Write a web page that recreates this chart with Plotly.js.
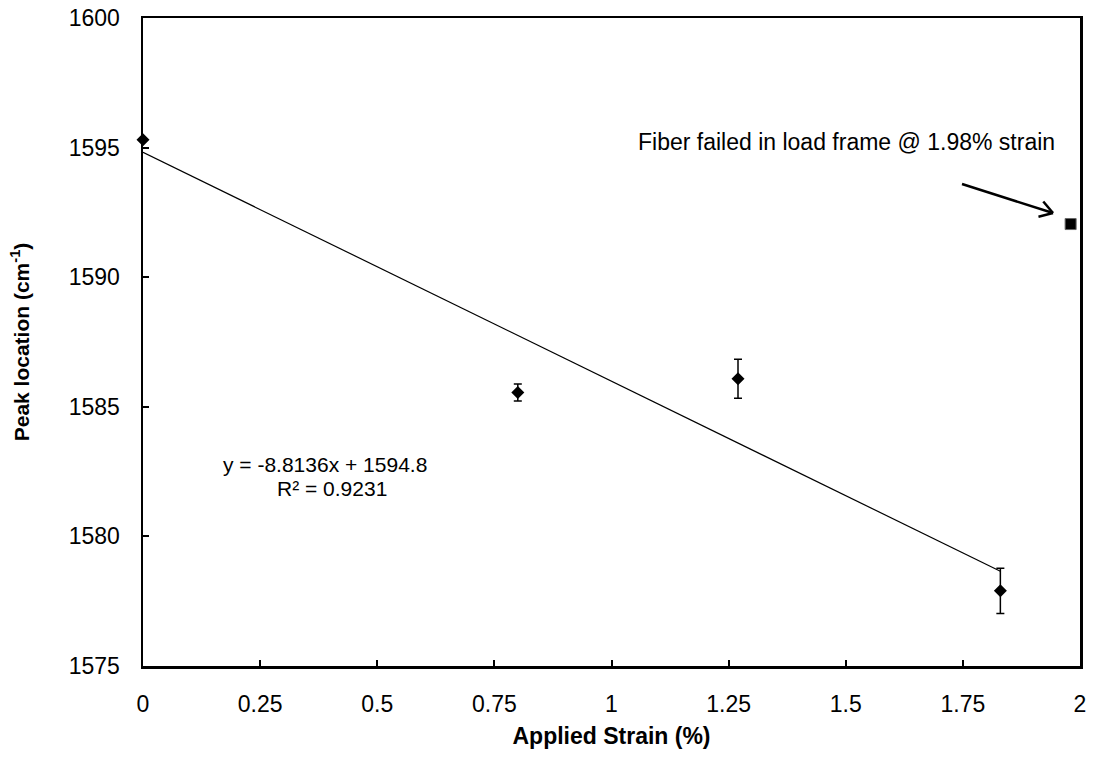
<!DOCTYPE html>
<html><head><meta charset="utf-8">
<script src="https://cdn.plot.ly/plotly-3.0.1.min.js"></script>
<style>html,body{margin:0;padding:0;background:#fff;}#chart{width:1094px;height:759px;}</style>
</head><body><div id="chart"></div>
<script>
// ---- data ----
const strain = [0, 0.8, 1.27, 1.83];
const peak = [1595.3, 1585.55, 1586.08, 1577.9];
const peakErr = [0, 0.33, 0.75, 0.87];
const failStrain = [1.98];
const failPeak = [1592.05];
const xTicks = [0, 0.25, 0.5, 0.75, 1, 1.25, 1.5, 1.75, 2];
const xTickLabels = ['0', '0.25', '0.5', '0.75', '1', '1.25', '1.5', '1.75', '2'];
const yTicks = [1575, 1580, 1585, 1590, 1595, 1600];
const yTickLabels = ['1575', '1580', '1585', '1590', '1595', '1600'];
const eqLine1 = 'y = -8.8136x + 1594.8';
const eqLine2 = 'R² = 0.9231';
const noteText = 'Fiber failed in load frame @ 1.98% strain';

// ---- geometry helpers ----
const W = 1094, H = 759;
const L = 143, R = 1080, T = 18, B = 666;
const xr = [0, 2], yr = [1575, 1600];
const px2x = p => xr[0] + (p - L) / (R - L) * (xr[1] - xr[0]);
const py2y = p => yr[1] - (p - T) / (B - T) * (yr[1] - yr[0]);

// linear fit of the data
const n = strain.length;
const mx = strain.reduce((a, b) => a + b, 0) / n;
const my = peak.reduce((a, b) => a + b, 0) / n;
let sxy = 0, sxx = 0;
for (let i = 0; i < n; i++) { sxy += (strain[i] - mx) * (peak[i] - my); sxx += (strain[i] - mx) ** 2; }
const slope = sxy / sxx, icpt = my - slope * mx;
const fitX = [Math.min(...strain), Math.max(...strain)];
const fitY = fitX.map(x => icpt + slope * x);

const traces = [
  { x: fitX, y: fitY, mode: 'lines', line: { color: '#000', width: 1.2 }, hoverinfo: 'skip' },
  { x: strain, y: peak, mode: 'markers', type: 'scatter', cliponaxis: false,
    marker: { symbol: 'diamond', size: 10, color: '#000' },
    error_y: { type: 'data', array: peakErr, visible: true, color: '#000', thickness: 1.5, width: 4 } },
  { x: failStrain, y: failPeak, mode: 'markers', cliponaxis: false,
    marker: { symbol: 'square', size: 11, color: '#000', line: { color: '#666', width: 1 } } }
];

// arrow (pixel geometry converted to data)
const tail = [962, 184], tip = [1053, 213];
const ang = Math.atan2(tip[1] - tail[1], tip[0] - tail[0]);
const bl = 15, ba = 32 * Math.PI / 180;
const b1 = [tip[0] - bl * Math.cos(ang - ba), tip[1] - bl * Math.sin(ang - ba)];
const b2 = [tip[0] - bl * Math.cos(ang + ba), tip[1] - bl * Math.sin(ang + ba)];
const seg = (a, b) => ({ type: 'line', xref: 'x', yref: 'y', x0: px2x(a[0]), y0: py2y(a[1]), x1: px2x(b[0]), y1: py2y(b[1]), line: { color: '#000', width: 2.5 } });

const axisCommon = {
  ticks: 'inside', ticklen: 6, tickwidth: 2, tickcolor: '#000',
  showline: true, linewidth: 2.5, linecolor: '#000', mirror: true,
  showgrid: false, zeroline: false, automargin: false,
  tickfont: { size: 23, color: '#000' }
};

const layout = {
  width: W, height: H,
  margin: { l: L, r: W - R, t: T, b: H - B, pad: 0 },
  paper_bgcolor: '#fff', plot_bgcolor: '#fff',
  font: { family: 'Liberation Sans, Arial, sans-serif', color: '#000', size: 23 },
  showlegend: false,
  xaxis: Object.assign({}, axisCommon, {
    range: xr, tickmode: 'array', tickvals: xTicks, ticktext: xTickLabels,
    ticklabelstandoff: 16,
    title: { text: '<b>Applied Strain (%)</b>', font: { size: 23, color: '#000' }, standoff: 12 }
  }),
  yaxis: Object.assign({}, axisCommon, {
    range: yr, tickmode: 'array', tickvals: yTicks, ticktext: yTickLabels,
    ticklabelstandoff: 16,
    title: { text: '<b>Peak location (cm<sup>-1</sup>)</b>', font: { size: 21, color: '#000' }, standoff: 34 }
  }),
  annotations: [
    { xref: 'x', yref: 'y', x: px2x(325), y: py2y(464), text: eqLine1, showarrow: false,
      font: { size: 21, color: '#000' } },
    { xref: 'x', yref: 'y', x: px2x(332), y: py2y(488), text: eqLine2, showarrow: false,
      font: { size: 21, color: '#000' } },
    { xref: 'x', yref: 'y', x: px2x(846), y: py2y(142), text: noteText, showarrow: false,
      font: { size: 23, color: '#000' } }
  ],
  shapes: [seg(tail, tip), seg(tip, b1), seg(tip, b2)]
};

Plotly.newPlot('chart', traces, layout, { staticPlot: true, displayModeBar: false });
</script>
</body></html>
